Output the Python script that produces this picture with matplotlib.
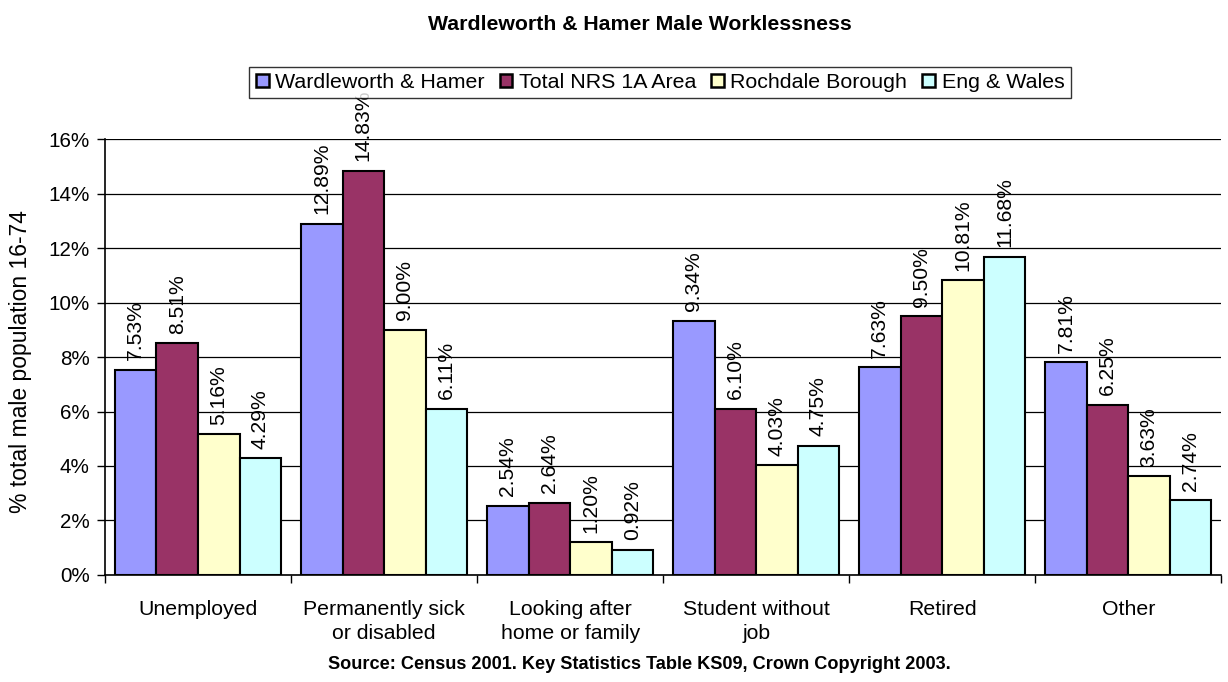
import matplotlib
matplotlib.use("Agg")
import matplotlib.pyplot as plt
import numpy as np
from matplotlib.patches import Patch

categories = ["Unemployed", "Permanently sick\nor disabled", "Looking after\nhome or family",
              "Student without\njob", "Retired", "Other"]
series_names = ["Wardleworth & Hamer", "Total NRS 1A Area", "Rochdale Borough", "Eng & Wales"]
wardleworth = [7.53, 12.89, 2.54, 9.34, 7.63, 7.81]
total_nrs = [8.51, 14.83, 2.64, 6.10, 9.50, 6.25]
rochdale = [5.16, 9.00, 1.20, 4.03, 10.81, 3.63]
eng_wales = [4.29, 6.11, 0.92, 4.75, 11.68, 2.74]
colors = ["#9999FF", "#993366", "#FFFFCC", "#CCFFFF"]
yticks = [0, 2, 4, 6, 8, 10, 12, 14, 16]

plt.rcParams['font.family'] = ['Liberation Sans', 'DejaVu Sans']

fig = plt.figure(figsize=(12.28, 6.82), dpi=100)
ax = fig.add_axes([0.0855, 0.157, 0.909, 0.639])

data = [wardleworth, total_nrs, rochdale, eng_wales]
n = len(categories)
x = np.arange(n)
bw = 0.2233
for i, (vals, c) in enumerate(zip(data, colors)):
    pos = x + (i - 1.5) * bw
    ax.bar(pos, vals, width=bw, color=c, edgecolor='black', linewidth=1.5, zorder=3)
    for p, v in zip(pos, vals):
        ax.text(p, v + 0.35, f"{v:.2f}%", rotation=90, ha='center', va='bottom',
                fontsize=15.2, zorder=4)

ax.set_xlim(-0.5, n - 0.5)
ax.set_ylim(0, 16)
ax.set_yticks(yticks)
ax.set_yticklabels([f"{t}%" for t in yticks], fontsize=14.9)
ax.yaxis.grid(True, color='black', linewidth=0.9, zorder=0)
ax.set_axisbelow(True)

ax.set_xticks(np.arange(n + 1) - 0.5)
ax.set_xticklabels([])
ax.set_xticks(x, minor=True)
ax.set_xticklabels(categories, minor=True, fontsize=15.3, linespacing=1.35)
ax.tick_params(axis='x', which='minor', length=0, pad=18)
ax.tick_params(axis='x', which='major', length=6, direction='out', width=1)
ax.tick_params(axis='y', length=6, direction='out', width=1, pad=5)

for s in ['top', 'right']:
    ax.spines[s].set_visible(False)
for s in ['left', 'bottom']:
    ax.spines[s].set_linewidth(1.2)

ax.set_ylabel("% total male population 16-74", fontsize=16.5)
ax.yaxis.set_label_coords(-0.0654, 0.49)

fig.text(0.521, 0.956, "Wardleworth & Hamer Male Worklessness", ha='center', va='baseline',
         fontsize=15.3, fontweight='bold')
fig.text(0.521, 0.026, "Source: Census 2001. Key Statistics Table KS09, Crown Copyright 2003.",
         ha='center', va='center', fontsize=13.1, fontweight='bold')

handles = [Patch(facecolor=c, edgecolor='black', linewidth=1.8) for c in colors]
leg = fig.legend(handles, series_names, loc='center', bbox_to_anchor=(0.5375, 0.879), ncol=4,
                 fontsize=15.4, frameon=True, fancybox=False, edgecolor='black',
                 handlelength=0.6, handleheight=0.6, handletextpad=0.3, columnspacing=0.7,
                 borderpad=0.3, borderaxespad=0)
leg.get_frame().set_linewidth(1.0)

fig.savefig("out.png", dpi=100)
